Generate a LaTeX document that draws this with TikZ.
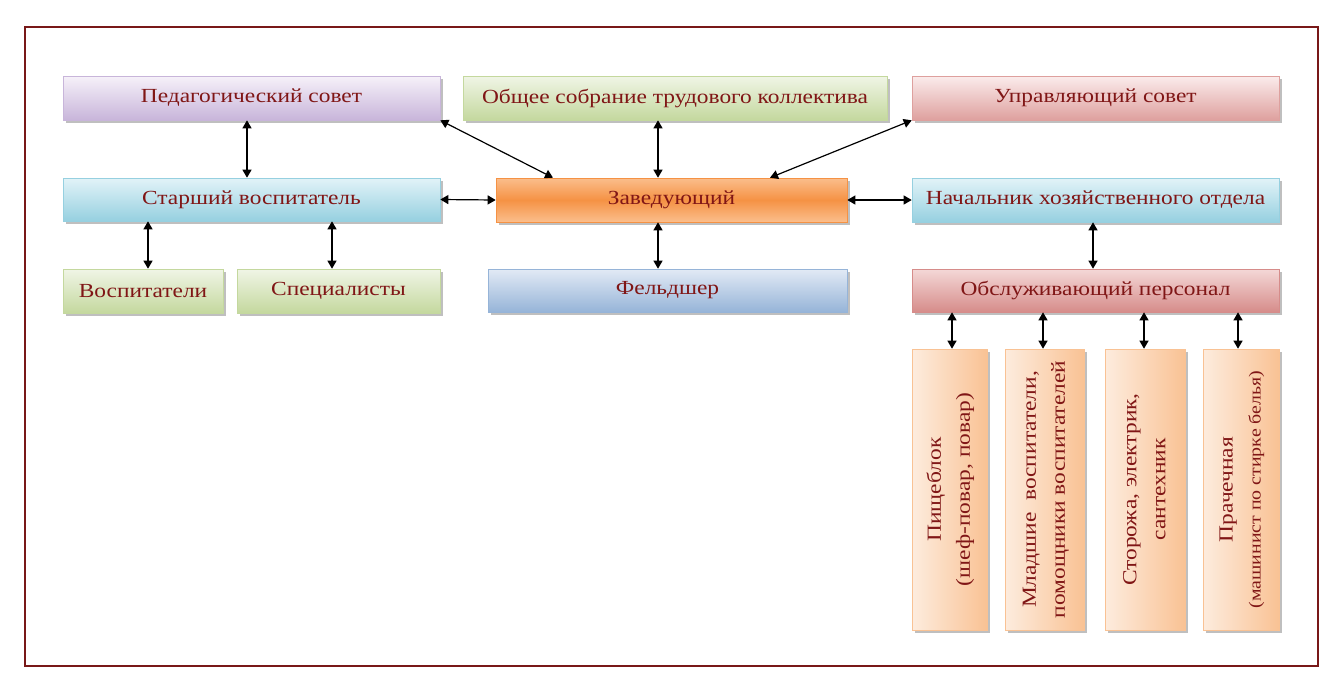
\documentclass[tikz,border=0pt]{standalone}
\usepackage{fontspec}
\setmainfont[FakeStretch=1.17]{Liberation Serif}
\usepackage{graphicx}
\usetikzlibrary{arrows.meta,shadows}

\definecolor{txt}{RGB}{128,22,22}
\definecolor{frm}{RGB}{120,24,24}
\definecolor{pedA}{RGB}{246,241,249}
\definecolor{pedB}{RGB}{200,181,218}
\definecolor{grnA}{RGB}{240,245,230}
\definecolor{grnB}{RGB}{196,216,158}
\definecolor{pnkA}{RGB}{251,236,236}
\definecolor{pnkB}{RGB}{222,160,158}
\definecolor{redA}{RGB}{244,216,215}
\definecolor{redB}{RGB}{214,140,138}
\definecolor{cynA}{RGB}{226,243,248}
\definecolor{cynB}{RGB}{150,208,224}
\definecolor{orA}{RGB}{251,190,140}
\definecolor{orB}{RGB}{245,146,68}
\definecolor{bluA}{RGB}{226,234,245}
\definecolor{bluB}{RGB}{150,180,216}
\definecolor{pchA}{RGB}{253,236,222}
\definecolor{pchB}{RGB}{249,194,148}

\begin{document}
\begin{tikzpicture}
  [x=1pt,y=-1pt,
   box/.style={rectangle,inner sep=0pt,line width=.6pt,text=txt,
     font=\fontsize{20}{24}\selectfont,
     drop shadow={shadow xshift=2.5pt,shadow yshift=-2.5pt,fill=black!55,opacity=.45}},
   pedbox/.style={box,top color=pedA,bottom color=pedB,draw=pedB},
   grnbox/.style={box,top color=grnA,bottom color=grnB,draw=grnB},
   pnkbox/.style={box,top color=pnkA,bottom color=pnkB,draw=pnkB},
   redbox/.style={box,top color=redA,bottom color=redB,draw=redB},
   cynbox/.style={box,top color=cynA,bottom color=cynB,draw=cynB},
   orbox/.style={box,top color=orA,bottom color=orA,middle color=orB,draw=orB},
   blubox/.style={box,top color=bluA,bottom color=bluB,draw=bluB},
   vbox/.style={box,left color=pchA,right color=pchB,draw=pchB,
     minimum width=#1,minimum height=281pt},
   link/.style={{Triangle[length=8pt,width=9pt]}-{Triangle[length=8pt,width=9pt]},line width=1.2pt}]

  \useasboundingbox[fill=white] (0,0) rectangle (1340,686);
  \draw[frm,line width=2pt] (25,27) rectangle (1318,666);

  \node[pedbox,minimum width=377pt,minimum height=44pt] (ped) at (251.5,98) {Педагогический совет};
  \node[grnbox,minimum width=424pt,minimum height=44pt] (sobr) at (675,98) {Общее собрание трудового коллектива};
  \node[pnkbox,minimum width=367pt,minimum height=44pt] (upr) at (1095.5,98) {Управляющий совет};

  \node[cynbox,minimum width=377pt,minimum height=43pt] (star) at (251.5,199.5) {Старший воспитатель};
  \node[orbox,minimum width=351pt,minimum height=44pt] (zav) at (671.5,200) {Заведующий};
  \node[cynbox,minimum width=367pt,minimum height=44pt] (nach) at (1095.5,200) {Начальник хозяйственного отдела};

  \node[grnbox,minimum width=160pt,minimum height=44pt] (vosp) at (143,291) {Воспитатели};
  \node[grnbox,minimum width=203pt,minimum height=44pt] (spec) at (338.5,291) {Специалисты};
  \node[blubox,minimum width=359pt,minimum height=43pt] (feld) at (667.5,290.5) {Фельдшер};
  \node[redbox,minimum width=367pt,minimum height=43pt] (pers) at (1095.5,290.5) {Обслуживающий персонал};

  \node[vbox=75pt] (pish) at (949.5,489.5)
    {\rotatebox{90}{\fontsize{20}{29}\selectfont\begin{tabular}{@{}c@{}}Пищеблок\\(шеф-повар, повар)\end{tabular}}};
  \node[vbox=79pt] (mlad) at (1044.5,489.5)
    {\rotatebox{90}{\fontsize{20}{29}\selectfont\begin{tabular}{@{}c@{}}Младшие\ \ воспитатели,\\помощники воспитателей\end{tabular}}};
  \node[vbox=80pt] (stor) at (1145,489.5)
    {\rotatebox{90}{\fontsize{20}{29}\selectfont\begin{tabular}{@{}c@{}}Сторожа, электрик,\\сантехник\end{tabular}}};
  \node[vbox=76pt] (prach) at (1241,489.5)
    {\rotatebox{90}{\fontsize{20}{28}\selectfont\begin{tabular}{@{}c@{}}Прачечная\\{\fontsize{17}{18}\selectfont(машинист по стирке белья)}\end{tabular}}};

  \coordinate (mid) at (658,0);

  \draw[link] ([xshift=-4.5pt]ped.south) -- ([xshift=-4.5pt]star.north);
  \draw[link] (ped.south east) -- ([xshift=-118.5pt]zav.north);
  \draw[link] (sobr.south -| mid) -- (zav.north -| mid);
  \draw[link] (upr.south west) -- ([xshift=98.5pt]zav.north);

  \draw[link] (star.east) -- (zav.west);
  \draw[link] (zav.east) -- (nach.west);
  \draw[link] (zav.south -| mid) -- (feld.north -| mid);

  \draw[link] ([xshift=5pt]vosp.north) -- ([xshift=5pt]vosp.north |- star.south);
  \draw[link] ([xshift=-6.5pt]spec.north) -- ([xshift=-6.5pt]spec.north |- star.south);
  \draw[link] ([xshift=-2.5pt]nach.south) -- ([xshift=-2.5pt]pers.north);

  \draw[link] ([xshift=2.5pt]pish.north |- pers.south) -- ([xshift=2.5pt]pish.north);
  \draw[link] ([xshift=-1.5pt]mlad.north |- pers.south) -- ([xshift=-1.5pt]mlad.north);
  \draw[link] ([xshift=-1pt]stor.north |- pers.south) -- ([xshift=-1pt]stor.north);
  \draw[link] ([xshift=-3pt]prach.north |- pers.south) -- ([xshift=-3pt]prach.north);
\end{tikzpicture}
\end{document}
